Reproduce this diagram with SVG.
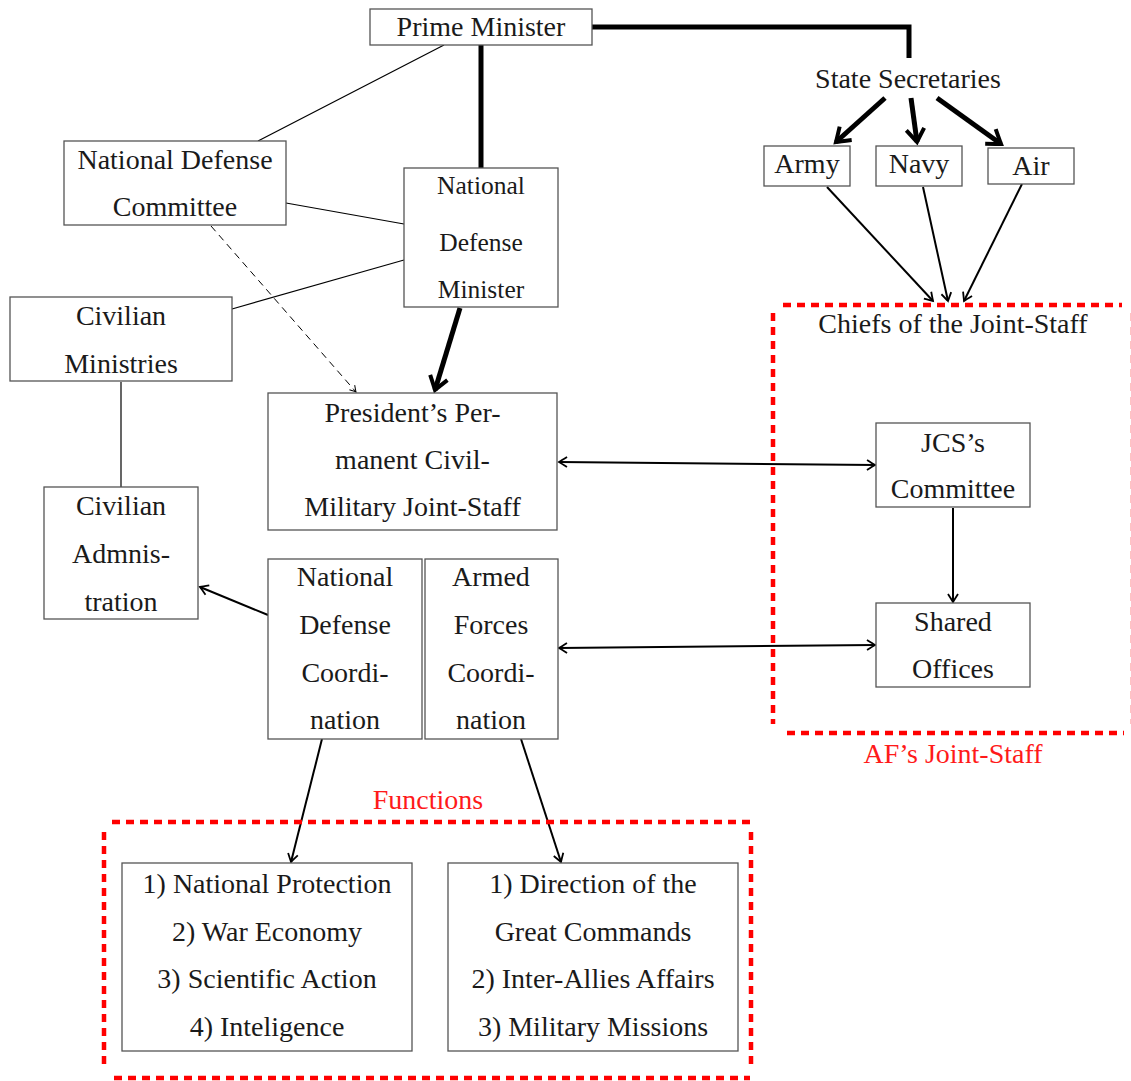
<svg xmlns="http://www.w3.org/2000/svg" width="1131" height="1081" viewBox="0 0 1131 1081">
<style>
text{font-family:"Liberation Serif","Times New Roman",serif;font-size:28px;fill:#1a1a1a;text-anchor:middle}
.sm{font-size:25.5px}
.red{fill:#ff1a1a}
.box{fill:#fff;stroke:#555;stroke-width:1.3}
.thin{stroke:#000;stroke-width:1.2;fill:none}
.arr{stroke:#000;stroke-width:2;fill:none}
.thick{stroke:#000;stroke-width:5;fill:none}
.dash{stroke:#000;stroke-width:1;fill:none;stroke-dasharray:7 5}
.rd{stroke:#ff0000;stroke-width:4.5;fill:none;stroke-dasharray:8 6}
</style>
<defs>
<marker id="a" markerUnits="userSpaceOnUse" markerWidth="20" markerHeight="20" viewBox="-10 -10 20 20" refX="0" refY="0" orient="auto-start-reverse">
<path d="M-8,-5 Q-2,-1.2 0,0 Q-2,1.2 -8,5" fill="none" stroke="#000" stroke-width="1.8"/>
</marker>
<marker id="as" markerUnits="userSpaceOnUse" markerWidth="20" markerHeight="20" viewBox="-10 -10 20 20" refX="0" refY="0" orient="auto">
<path d="M-6,-3.5 Q-1.5,-0.8 0,0 Q-1.5,0.8 -6,3.5" fill="none" stroke="#000" stroke-width="1"/>
</marker>
<marker id="at" markerUnits="userSpaceOnUse" markerWidth="30" markerHeight="30" viewBox="-15 -15 30 30" refX="0" refY="0" orient="auto">
<path d="M-13,-9 Q-3,-2 0,0 Q-3,2 -13,9" fill="none" stroke="#000" stroke-width="4"/>
</marker>
</defs>

<g id="connectors">
<polyline class="thick" points="592,27 909,27 909,58"/>
<line class="thick" x1="481" y1="45" x2="481" y2="168"/>
<line class="thin" x1="444" y1="45" x2="258" y2="141"/>
<line class="thin" x1="286" y1="203" x2="404" y2="224"/>
<line class="thin" x1="232" y1="309" x2="404" y2="260"/>
<line class="dash" x1="211" y1="226" x2="356" y2="392" marker-end="url(#as)"/>
<line class="thick" x1="460" y1="308" x2="435" y2="390" marker-end="url(#at)"/>
<line class="thin" x1="121" y1="382" x2="121" y2="487"/>
<line class="thick" x1="885" y1="98" x2="836" y2="142" marker-end="url(#at)"/>
<line class="thick" x1="911" y1="98" x2="917" y2="142" marker-end="url(#at)"/>
<line class="thick" x1="937" y1="98" x2="1001" y2="144" marker-end="url(#at)"/>
<line class="arr" x1="827" y1="187" x2="933" y2="301" marker-end="url(#a)"/>
<line class="arr" x1="923" y1="187" x2="948" y2="301" marker-end="url(#a)"/>
<line class="arr" x1="1022" y1="184" x2="964" y2="301" marker-end="url(#a)"/>
<line class="arr" x1="559" y1="462" x2="875" y2="465" marker-start="url(#a)" marker-end="url(#a)"/>
<line class="arr" x1="559" y1="648" x2="875" y2="645" marker-start="url(#a)" marker-end="url(#a)"/>
<line class="arr" x1="953" y1="508" x2="953" y2="602" marker-end="url(#a)"/>
<line class="arr" x1="268" y1="615" x2="200" y2="587" marker-end="url(#a)"/>
<line class="arr" x1="322" y1="739" x2="291" y2="862" marker-end="url(#a)"/>
<line class="arr" x1="521" y1="739" x2="561" y2="862" marker-end="url(#a)"/>
</g>

<g id="af-joint-staff">
<line class="rd" x1="783" y1="305" x2="1122" y2="305"/>
<line class="rd" x1="773" y1="313" x2="773" y2="724"/>
<line class="rd" x1="787" y1="733" x2="1124" y2="733"/>
<line class="rd" x1="1132.5" y1="313" x2="1132.5" y2="724" style="stroke:#ffb0b0"/>
<text x="953" y="333">Chiefs of the Joint-Staff</text>
<text class="red" x="953" y="763">AF’s Joint-Staff</text>
</g>

<g id="functions-group">
<line class="rd" x1="112" y1="822" x2="750" y2="822"/>
<line class="rd" x1="104" y1="832" x2="104" y2="1070"/>
<line class="rd" x1="751" y1="832" x2="751" y2="1070"/>
<line class="rd" x1="114" y1="1078" x2="750" y2="1078"/>
<text class="red" x="428" y="809">Functions</text>
</g>

<g id="prime-minister"><rect class="box" x="370" y="9" width="222" height="36"/><text x="481" y="36">Prime Minister</text></g>
<g id="state-secretaries"><text x="908" y="88">State Secretaries</text></g>
<g id="army"><rect class="box" x="764" y="146" width="86" height="40"/><text x="807" y="173">Army</text></g>
<g id="navy"><rect class="box" x="876" y="146" width="86" height="40"/><text x="919" y="173">Navy</text></g>
<g id="air"><rect class="box" x="988" y="148" width="86" height="36"/><text x="1031" y="175">Air</text></g>
<g id="national-defense-committee"><rect class="box" x="64" y="141" width="222" height="84"/><text x="175" y="169">National Defense</text><text x="175" y="216">Committee</text></g>
<g id="national-defense-minister"><rect class="box" x="404" y="168" width="154" height="139"/><text class="sm" x="481" y="194">National</text><text class="sm" x="481" y="251">Defense</text><text class="sm" x="481" y="298">Minister</text></g>
<g id="civilian-ministries"><rect class="box" x="10" y="297" width="222" height="84"/><text x="121" y="325">Civilian</text><text x="121" y="373">Ministries</text></g>
<g id="presidents-joint-staff"><rect class="box" x="268" y="393" width="289" height="137"/><text x="412.5" y="422">President’s Per-</text><text x="412.5" y="469">manent Civil-</text><text x="412.5" y="516">Military Joint-Staff</text></g>
<g id="civilian-administration"><rect class="box" x="44" y="487" width="154" height="132"/><text x="121" y="515">Civilian</text><text x="121" y="563">Admnis-</text><text x="121" y="611">tration</text></g>
<g id="national-defense-coordination"><rect class="box" x="268" y="559" width="154" height="180"/><text x="345" y="586">National</text><text x="345" y="634">Defense</text><text x="345" y="682">Coordi-</text><text x="345" y="729">nation</text></g>
<g id="armed-forces-coordination"><rect class="box" x="425" y="559" width="133" height="180"/><text x="491" y="586">Armed</text><text x="491" y="634">Forces</text><text x="491" y="682">Coordi-</text><text x="491" y="729">nation</text></g>
<g id="jcs-committee"><rect class="box" x="876" y="423" width="154" height="84"/><text x="953" y="452">JCS’s</text><text x="953" y="498">Committee</text></g>
<g id="shared-offices"><rect class="box" x="876" y="603" width="154" height="84"/><text x="953" y="631">Shared</text><text x="953" y="678">Offices</text></g>
<g id="functions-left"><rect class="box" x="122" y="863" width="290" height="188"/><text x="267" y="893">1) National Protection</text><text x="267" y="941">2) War Economy</text><text x="267" y="988">3) Scientific Action</text><text x="267" y="1036">4) Inteligence</text></g>
<g id="functions-right"><rect class="box" x="448" y="863" width="290" height="188"/><text x="593" y="893">1) Direction of the</text><text x="593" y="941">Great Commands</text><text x="593" y="988">2) Inter-Allies Affairs</text><text x="593" y="1036">3) Military Missions</text></g>
</svg>
